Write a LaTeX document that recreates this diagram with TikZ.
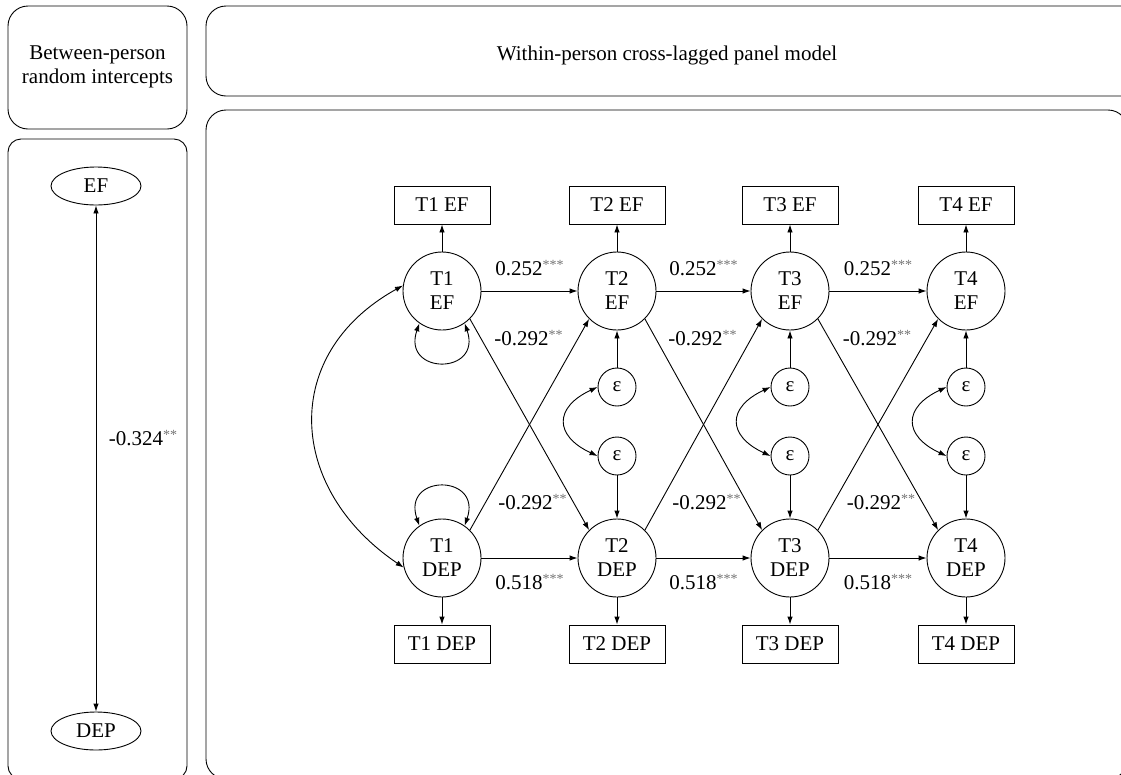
\documentclass[tikz,border=0pt]{standalone}
\usepackage{fontspec}
\setmainfont{Liberation Serif}
\usetikzlibrary{arrows.meta,shapes.geometric}
\newcommand\sigstars[1]{\raisebox{0.62ex}{\fontsize{14}{14}\selectfont\color{black!55}#1}}
\begin{document}
\begin{tikzpicture}[x=1pt,y=1pt,
  every node/.style={font=\fontsize{21}{24}\selectfont},
  panel/.style={draw, line width=0.9pt, rounded corners=20pt},
  lat/.style={draw, circle, minimum size=78pt, inner sep=0pt, align=center, line width=0.9pt},
  obs/.style={draw, rectangle, minimum width=96pt, minimum height=38pt, inner sep=0pt, line width=0.9pt},
  eps/.style={draw, circle, minimum size=38pt, inner sep=0pt, line width=0.9pt},
  ell/.style={draw, ellipse, minimum width=90pt, minimum height=38pt, inner sep=0pt, line width=0.9pt},
  arr/.style={line width=0.9pt, -{Latex[length=8pt,width=5.5pt]}},
  darr/.style={line width=0.9pt, {Latex[length=8pt,width=5.5pt]}-{Latex[length=8pt,width=5.5pt]}},
  lab/.style={inner sep=0pt}
]
\useasboundingbox (0,0) rectangle (1121,-774);
\begin{scope}
\clip (0,0) rectangle (1121,-774);
\draw[panel] (8,-6) rectangle (187,-129);
\draw[panel, rounded corners=13pt] (8,-139) rectangle (187,-779);
\draw[panel] (206,-6) rectangle (1145,-96);
\draw[panel] (206,-110) rectangle (1128,-779);
\end{scope}

\node[align=center] (tBP) at (97.5,-67) {Between-person\\random intercepts};
\node (tW) at (667,-55) {Within-person cross-lagged panel model};

% between-person
\node[ell] (bEF) at (96,-186) {EF};
\node[ell] (bDEP) at (96,-731) {DEP};
\draw[darr] (bEF) -- (bDEP);
\node[lab] (bLab) at (143,-438) {-0.324\sigstars{**}};

% within-person
\foreach \i/\x in {1/442,2/617,3/790,4/966} {
  \node[lat] (E\i) at (\x,-291) {T\i\\EF};
  \node[lat] (D\i) at (\x,-558) {T\i\\DEP};
  \node[obs] (oE\i) at (\x,-205) {T\i{} EF};
  \node[obs] (oD\i) at (\x,-644) {T\i{} DEP};
  \draw[arr] (E\i) -- (oE\i);
  \draw[arr] (D\i) -- (oD\i);
}
\foreach \i/\x in {2/617,3/790,4/966} {
  \node[eps] (ue\i) at (\x,-387) {ε};
  \node[eps] (le\i) at (\x,-456) {ε};
  \draw[arr] (ue\i) -- (E\i);
  \draw[arr] (le\i) -- (D\i);
  \draw[darr] (ue\i.west) .. controls +(205:48pt) and +(155:48pt) .. (le\i.west);
}
\foreach \i/\j/\m in {1/2/529.5,2/3/703.5,3/4/878} {
  \draw[arr] (E\i) -- (E\j);
  \draw[arr] (D\i) -- (D\j);
  \draw[arr] (E\i.-45) -- (D\j.135);
  \draw[arr] (D\i.45) -- (E\j.-135);
  \node[lab] (lA\i) at (\m,-268) {0.252\sigstars{***}};
  \node[lab] (lB\i) at (\m-1,-338) {-0.292\sigstars{**}};
  \node[lab] (lC\i) at (\m+3,-502) {-0.292\sigstars{**}};
  \node[lab] (lD\i) at (\m,-582) {0.518\sigstars{***}};
}
\draw[darr] (E1.-125) .. controls +(-18,-52) and +(18,-52) .. (E1.-55);
\draw[darr] (D1.125) .. controls +(-18,52) and +(18,52) .. (D1.55);
\draw[darr] (E1.172) .. controls +(209:141pt) and +(146:141pt) .. (D1.194);
\end{tikzpicture}
\end{document}
